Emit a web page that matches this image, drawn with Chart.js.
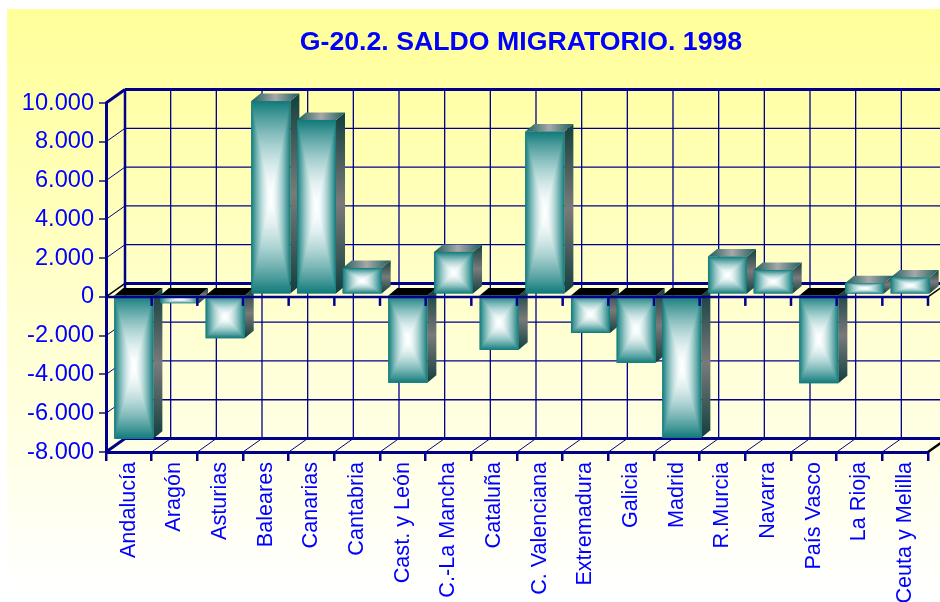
<!DOCTYPE html>
<html>
<head>
<meta charset="utf-8">
<style>html,body{margin:0;padding:0;background:#fff}canvas{display:block}</style>
<script src="https://cdn.jsdelivr.net/npm/chart.js@4/dist/chart.umd.min.js"></script>
</head>
<body>
<canvas id="c" width="940" height="602"></canvas>
<script>
const chartTitle = 'G-20.2. SALDO MIGRATORIO. 1998';
const categories = ['Andalucía','Aragón','Asturias','Baleares','Canarias','Cantabria','Cast. y León','C.-La Mancha','Cataluña','C. Valenciana','Extremadura','Galicia','Madrid','R.Murcia','Navarra','País Vasco','La Rioja','Ceuta y Melilla'];
const saldo = [-7450,-450,-2260,9970,9000,1360,-4560,2190,-2860,8400,-1990,-3530,-7400,1950,1260,-4580,580,870];

const NAVY = '#00008B', BLUE = '#0000FF';
const WALL = {dx: 19, dy: -13.5};
const FRONT = {dx: 5, dy: -2.5};
const DEPTH = {dx: 9, dy: -7.5};

function line(ctx, x1, y1, x2, y2, color, w) {
  ctx.strokeStyle = color; ctx.lineWidth = w;
  ctx.beginPath(); ctx.moveTo(x1, y1); ctx.lineTo(x2, y2); ctx.stroke();
}
function poly(ctx, pts, fill) {
  ctx.fillStyle = fill; ctx.beginPath();
  pts.forEach((p, i) => i ? ctx.lineTo(p[0], p[1]) : ctx.moveTo(p[0], p[1]));
  ctx.closePath(); ctx.fill();
}
function edges(xs) {
  const out = [];
  const n = xs.ticks.length;
  for (let i = 0; i <= n; i++) out.push(xs.left + (xs.right - xs.left) * i / n);
  return out;
}

const scene = {
  id: 'scene',
  afterLayout(chart) {
    const t = chart.titleBlock;
    t.left += 4; t.right += 4;
  },
  beforeDraw(chart) {
    const {ctx, width, height} = chart;
    ctx.save();
    const g = ctx.createLinearGradient(0, 9, 0, 590);
    g.addColorStop(0, '#FFFF99');
    g.addColorStop(1, '#FFFFFF');
    ctx.fillStyle = g;
    ctx.fillRect(7, 9, width - 7, height - 9);
    ctx.restore();
  },
  beforeDatasetsDraw(chart) {
    const {ctx, scales: {x, y}} = chart;
    const {dx, dy} = WALL;
    ctx.save();
    const top = y.getPixelForValue(10000), bot = y.getPixelForValue(-8000), zero = y.getPixelForValue(0);
    edges(x).forEach((px, i) => {
      if (i > 0) line(ctx, px + dx, top + dy, px + dx, bot + dy, NAVY, 1.3);
      if (i > 0) line(ctx, px, bot, px + dx, bot + dy, NAVY, 1);
    });
    y.ticks.forEach(t => {
      const py = y.getPixelForValue(t.value);
      const major = t.value === 0 || t.value === 10000 || t.value === -8000;
      line(ctx, x.left + dx, py + dy, x.right + dx, py + dy, NAVY, major ? 3 : 1.3);
      if (t.value !== 0) line(ctx, x.left, py, x.left + dx, py + dy, NAVY, major ? 3 : 1);
    });
    line(ctx, x.left + dx, top + dy, x.left + dx, bot + dy, NAVY, 2.5);
    line(ctx, x.left, zero, x.left + dx, zero + dy, '#000', 1.5);
    line(ctx, x.right, zero, x.right + dx, zero + dy, '#000', 1.5);
    line(ctx, x.right, bot, x.right + dx, bot + dy, '#000', 2.5);
    ctx.restore();
  },
  beforeDatasetDraw(chart) {
    chart.ctx.save();
    chart.ctx.translate(FRONT.dx, FRONT.dy);
  },
  afterDatasetDraw(chart, args) {
    const ctx = chart.ctx;
    ctx.restore();
    ctx.save();
    const edge = [20, 124, 124];
    chart.getDatasetMeta(args.index).data.forEach(el => {
      const p = el.getProps(['x', 'y', 'base', 'width'], true);
      const l = p.x - p.width / 2 + FRONT.dx, r = p.x + p.width / 2 + FRONT.dx;
      const t = Math.min(p.y, p.base) + FRONT.dy, b = Math.max(p.y, p.base) + FRONT.dy;
      const neg = p.y > p.base;
      const {dx, dy} = DEPTH;
      const sg = ctx.createLinearGradient(0, t + dy, 0, b);
      sg.addColorStop(0, '#123F3F'); sg.addColorStop(0.5, '#7A7A7A'); sg.addColorStop(1, '#123F3F');
      poly(ctx, [[r, t], [r + dx, t + dy], [r + dx, b + dy], [r, b]], sg);
      if (neg) {
        poly(ctx, [[l, t], [l + dx, t + dy], [r + dx, t + dy], [r, t]], '#000');
      } else {
        const tg = ctx.createLinearGradient(l, 0, r + dx, 0);
        tg.addColorStop(0, '#1C5F5F'); tg.addColorStop(0.5, '#A8A8A8'); tg.addColorStop(1, '#1C5F5F');
        poly(ctx, [[l, t], [l + dx, t + dy], [r + dx, t + dy], [r, t]], tg);
      }
      const hw = (r - l) / 2, hh = (b - t) / 2, N = 40;
      for (let i = 0; i < N; i++) {
        const f = i / (N - 1), u = 1 - Math.pow(1 - f, 1.7);
        const c = edge.map((v, k) => Math.round(v + ((k ? 252 : 245) - v) * u + (255 - (k ? 252 : 245)) * f * f * f));
        ctx.fillStyle = `rgb(${c[0]},${c[1]},${c[2]})`;
        const ix = hw * i / N, iy = hh * i / N;
        ctx.fillRect(l + ix, t + iy, r - l - 2 * ix, b - t - 2 * iy);
      }
    });
    ctx.restore();
  },
  afterDatasetsDraw(chart) {
    const {ctx, scales: {x, y}} = chart;
    const zero = y.getPixelForValue(0);
    ctx.save();
    line(ctx, x.left, zero, x.right, zero, NAVY, 2.5);
    edges(x).forEach((px, i) => {
      if (i > 0) line(ctx, px, zero, px, zero + 9, NAVY, 2.5);
    });
    ctx.restore();
  }
};

new Chart(document.getElementById('c'), {
  type: 'bar',
  data: {
    labels: categories,
    datasets: [{
      label: 'Saldo migratorio',
      data: saldo,
      backgroundColor: '#147C7C',
      clip: false,
      categoryPercentage: 1,
      barPercentage: 0.855
    }]
  },
  plugins: [scene],
  options: {
    responsive: false,
    animation: false,
    layout: {padding: {left: 0, right: 12, top: 0, bottom: 0}},
    plugins: {
      legend: {display: false},
      tooltip: {enabled: false},
      title: {
        display: true,
        text: chartTitle,
        fullSize: false,
        color: BLUE,
        font: {family: '"Liberation Sans", Arial, sans-serif', size: 26.7, weight: 'bold'},
        padding: {top: 26.5, bottom: 44.5}
      }
    },
    scales: {
      x: {
        afterFit(s) { s.height = 150; },
        grid: {drawOnChartArea: false, color: NAVY, lineWidth: 2.5, tickLength: 9},
        border: {color: NAVY, width: 3},
        ticks: {
          autoSkip: false, minRotation: 90, maxRotation: 90, padding: 1,
          color: BLUE,
          font: {family: '"Liberation Sans", Arial, sans-serif', size: 21.6}
        }
      },
      y: {
        min: -8000, max: 10000,
        afterFit(s) { s.width = 106; },
        grid: {drawOnChartArea: false, color: '#50508A', lineWidth: 2, tickLength: 7},
        border: {color: NAVY, width: 3},
        ticks: {
          stepSize: 2000, padding: 5, color: BLUE,
          font: {family: '"Liberation Sans", Arial, sans-serif', size: 23.6},
          callback: v => String(v).replace(/(\d)(\d{3})$/, '$1.$2')
        }
      }
    }
  }
});
</script>
</body>
</html>
